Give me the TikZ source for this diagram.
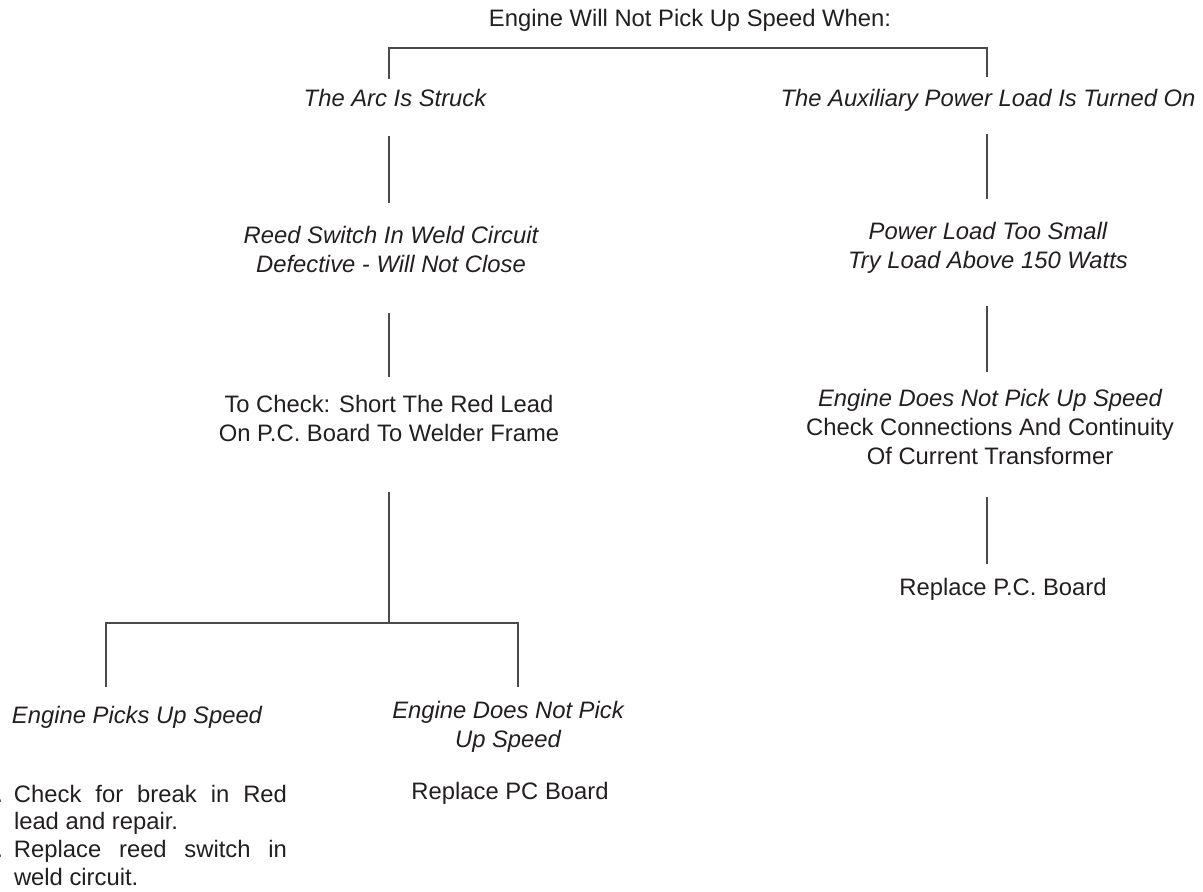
\documentclass[tikz,border=0pt]{standalone}
\usepackage{fontspec}
\setmainfont{Liberation Sans}
\usetikzlibrary{calc}
\definecolor{ink}{HTML}{231F20}
\definecolor{rule}{HTML}{4A4A4A}
\begin{document}
\begin{tikzpicture}[x=1pt,y=-1pt,
  txt/.style={anchor=base,inner sep=0pt,outer sep=0pt,text=ink,align=center,
    font=\fontsize{23.8}{28.6}\selectfont},
  itx/.style={txt,font=\fontsize{23.8}{28.6}\selectfont\itshape},
  conn/.style={draw=rule,line width=1.4pt}]
\useasboundingbox[fill=white] (0,0) rectangle (1203,892);
\coordinate (xL) at (389,0);
\coordinate (xR) at (987,0);
\coordinate (xa) at (106,0);
\coordinate (xb) at (518,0);
\coordinate (tb) at (688,48);
\coordinate (j) at (389,623);

\node[txt] (title) at (690,26) {Engine Will Not Pick Up Speed When:};
\node[itx] (arc) at (395,106) {The Arc Is Struck};
\node[itx] (aux) at (988,106) {The Auxiliary Power Load Is Turned On};
\node[itx] (reed) at (391,272) {Reed Switch In Weld Circuit\\Defective - Will Not Close};
\node[txt] (tocheck) at (389,441) {To Check: Short The Red Lead\\On P.C. Board To Welder Frame};
\node[itx] (picks) at (137,723) {Engine Picks Up Speed};
\node[itx] (notpick) at (508,747) {Engine Does Not Pick\\Up Speed};
\node[txt] (replpc) at (510,799) {Replace PC Board};
\node[txt,anchor=base west,align=justify,text width=273pt,
  font=\fontsize{23.8}{27.7}\selectfont] (list) at (14,802)
  {\leavevmode\llap{1.\hspace{11pt}}Check for break in Red lead and repair.\par
   \leavevmode\llap{2.\hspace{11pt}}Replace reed switch in weld circuit.};
\node[itx] (power) at (988,268) {Power Load Too Small\\Try Load Above 150 Watts};
\node[txt] (eng2) at (990,464) {\itshape Engine Does Not Pick Up Speed\\Check Connections And Continuity\\Of Current Transformer};
\node[txt] (replpcb) at (1003,595) {Replace P.C. Board};

% top bracket
\draw[conn] ($(arc.base-|xL)+(0,-27)$) |- (tb) -| ($(aux.base-|xR)+(0,-29)$);
% left branch
\draw[conn] ($(arc.base-|xL)+(0,30)$) -- ($(reed.base-|xL)+(0,-69)$);
\draw[conn] ($(reed.base-|xL)+(0,41)$) -- ($(tocheck.base-|xL)+(0,-64)$);
\draw[conn] ($(tocheck.base-|xL)+(0,51)$) -- (j);
\draw[conn] ($(picks.base-|xa)+(0,-36)$) |- (j) -| ($(notpick.base-|xb)+(0,-60)$);
% right branch
\draw[conn] ($(aux.base-|xR)+(0,28)$) -- ($(power.base-|xR)+(0,-69)$);
\draw[conn] ($(power.base-|xR)+(0,38)$) -- ($(eng2.base-|xR)+(0,-92)$);
\draw[conn] ($(eng2.base-|xR)+(0,33)$) -- ($(replpcb.base-|xR)+(0,-31)$);
\end{tikzpicture}
\end{document}
